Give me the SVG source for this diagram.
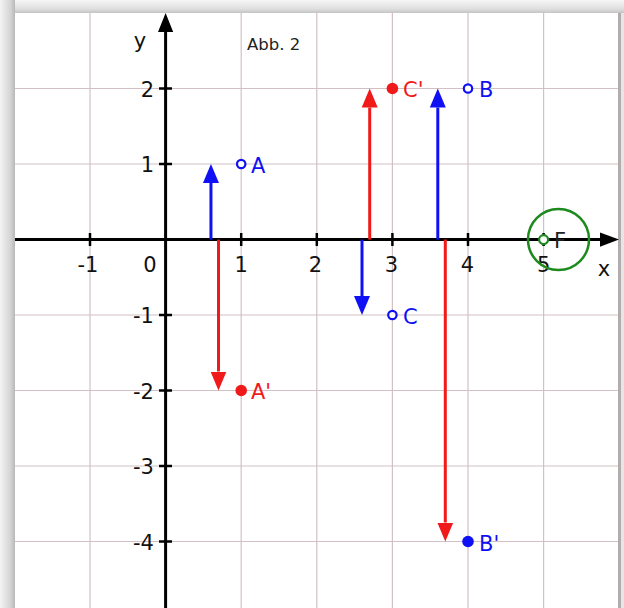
<svg xmlns="http://www.w3.org/2000/svg" width="624" height="608" viewBox="0 0 624 608">
<style>
.grid line{stroke:#d2c0c4;stroke-width:1.2}
.axis{stroke:#000;stroke-width:3;fill:none}
.tick{stroke:#000;stroke-width:2.5}
.num{font-family:"DejaVu Sans",Verdana,sans-serif;font-size:21px;fill:#111}
.lbl{font-family:"DejaVu Sans",Verdana,sans-serif;font-size:21px}
.blue{fill:#1010f5}
.red{fill:#f01a1a}
.ablue{stroke:#1010f5;stroke-width:3;fill:none}
.ared{stroke:#f01a1a;stroke-width:3;fill:none}
</style>
<defs>
<linearGradient id="shL" x1="0" y1="0" x2="1" y2="0">
<stop offset="0" stop-color="#f4f4f4"/>
<stop offset="0.7" stop-color="#d4d4d4"/>
<stop offset="1" stop-color="#b8b8b8"/>
</linearGradient>
<linearGradient id="shT" x1="0" y1="0" x2="0" y2="1">
<stop offset="0" stop-color="#f6f6f6"/>
<stop offset="0.7" stop-color="#dedede"/>
<stop offset="1" stop-color="#c4c4c4"/>
</linearGradient>
<marker id="hb" markerUnits="userSpaceOnUse" markerWidth="20" markerHeight="18" refX="0" refY="8" orient="auto" viewBox="0 0 20 16">
<path d="M0,0 L19,8 L0,16 z" fill="#1010f5"/>
</marker>
<marker id="hr" markerUnits="userSpaceOnUse" markerWidth="20" markerHeight="18" refX="0" refY="8" orient="auto" viewBox="0 0 20 16">
<path d="M0,0 L19,8 L0,16 z" fill="#f01a1a"/>
</marker>
</defs>
<rect x="0" y="0" width="624" height="608" fill="#ececec"/>
<rect x="0" y="0" width="15" height="608" fill="url(#shL)"/>
<rect x="15" y="0" width="609" height="13" fill="url(#shT)"/>
<rect x="618" y="13" width="3" height="595" fill="#b4acac"/>
<rect x="621" y="13" width="3" height="595" fill="#e6e6e6"/>
<rect x="15" y="13" width="603" height="595" fill="#ffffff"/>

<g id="grid" class="grid">
<line x1="90" y1="13" x2="90" y2="608"/>
<line x1="241.2" y1="13" x2="241.2" y2="608"/>
<line x1="316.8" y1="13" x2="316.8" y2="608"/>
<line x1="392.4" y1="13" x2="392.4" y2="608"/>
<line x1="468" y1="13" x2="468" y2="608"/>
<line x1="543.6" y1="13" x2="543.6" y2="608"/>
<line x1="15" y1="88.5" x2="618" y2="88.5"/>
<line x1="15" y1="164" x2="618" y2="164"/>
<line x1="15" y1="315" x2="618" y2="315"/>
<line x1="15" y1="390.5" x2="618" y2="390.5"/>
<line x1="15" y1="466" x2="618" y2="466"/>
<line x1="15" y1="541.5" x2="618" y2="541.5"/>
</g>

<g id="axes">
<line class="axis" x1="15" y1="239.6" x2="602" y2="239.6"/>
<polygon points="619,239.6 600,232.5 600,246.7" fill="#000"/>
<line class="axis" x1="165.6" y1="608" x2="165.6" y2="30"/>
<polygon points="165.6,13 158,32 173.2,32" fill="#000"/>
<g class="tick">
<line x1="90" y1="233" x2="90" y2="246"/>
<line x1="241.2" y1="233" x2="241.2" y2="246"/>
<line x1="316.8" y1="233" x2="316.8" y2="246"/>
<line x1="392.4" y1="233" x2="392.4" y2="246"/>
<line x1="468" y1="233" x2="468" y2="246"/>
<line x1="543.6" y1="233" x2="543.6" y2="246"/>
<line x1="159" y1="88.5" x2="172" y2="88.5"/>
<line x1="159" y1="164" x2="172" y2="164"/>
<line x1="159" y1="315" x2="172" y2="315"/>
<line x1="159" y1="390.5" x2="172" y2="390.5"/>
<line x1="159" y1="466" x2="172" y2="466"/>
<line x1="159" y1="541.5" x2="172" y2="541.5"/>
</g>
<g class="num" text-anchor="middle">
<text x="88" y="271.5">-1</text>
<text x="150" y="271.5">0</text>
<text x="241.2" y="271.5">1</text>
<text x="315.5" y="271.5">2</text>
<text x="391.5" y="271.5">3</text>
<text x="467.5" y="271.5">4</text>
<text x="543.6" y="271.5">5</text>
<text x="604" y="276">x</text>
<text x="140" y="48">y</text>
</g>
<g class="num" text-anchor="end">
<text x="154" y="96.5">2</text>
<text x="154" y="172">1</text>
<text x="154" y="323">-1</text>
<text x="154" y="398.5">-2</text>
<text x="154" y="474">-3</text>
<text x="154" y="549.5">-4</text>
</g>
<text x="247" y="50" font-family="DejaVu Sans, Verdana, sans-serif" font-size="16.5" fill="#222">Abb. 2</text>
</g>

<g id="connectors">
<line class="ablue" x1="210.96" y1="239.6" x2="210.96" y2="183" marker-end="url(#hb)"/>
<line class="ared" x1="218.5" y1="239.6" x2="218.5" y2="371.5" marker-end="url(#hr)"/>
<line class="ared" x1="369.7" y1="239.6" x2="369.7" y2="107.5" marker-end="url(#hr)"/>
<line class="ablue" x1="437.8" y1="239.6" x2="437.8" y2="107.5" marker-end="url(#hb)"/>
<line class="ablue" x1="362" y1="239.6" x2="362" y2="296" marker-end="url(#hb)"/>
<line class="ared" x1="445.3" y1="239.6" x2="445.3" y2="522.5" marker-end="url(#hr)"/>
</g>

<g id="A">
<circle cx="241.2" cy="164" r="4.2" fill="#fff" stroke="#1010f5" stroke-width="2.2"/>
<text class="lbl blue" x="251" y="172.5">A</text>
</g>
<g id="A2">
<circle cx="241.2" cy="390.5" r="5.8" fill="#f01a1a"/>
<text class="lbl red" x="251" y="399">A'</text>
</g>
<g id="C2">
<circle cx="392.4" cy="88.5" r="5.8" fill="#f01a1a"/>
<text class="lbl red" x="403" y="97">C'</text>
</g>
<g id="B">
<circle cx="468" cy="88.5" r="4.2" fill="#fff" stroke="#1010f5" stroke-width="2.2"/>
<text class="lbl blue" x="479" y="97">B</text>
</g>
<g id="C">
<circle cx="392.4" cy="315" r="4.2" fill="#fff" stroke="#1010f5" stroke-width="2.2"/>
<text class="lbl blue" x="403" y="324">C</text>
</g>
<g id="B2">
<circle cx="468" cy="541.5" r="5.8" fill="#1010f5"/>
<text class="lbl blue" x="479" y="550.5">B'</text>
</g>
<g id="F">
<circle cx="558.5" cy="239.5" r="30.5" fill="none" stroke="#1e8a1e" stroke-width="2.5"/>
<circle cx="543.6" cy="239.6" r="4.5" fill="#fff" stroke="#1e8a1e" stroke-width="2.2"/>
<text class="lbl" x="554" y="248" fill="#222">F</text>
</g>
</svg>
